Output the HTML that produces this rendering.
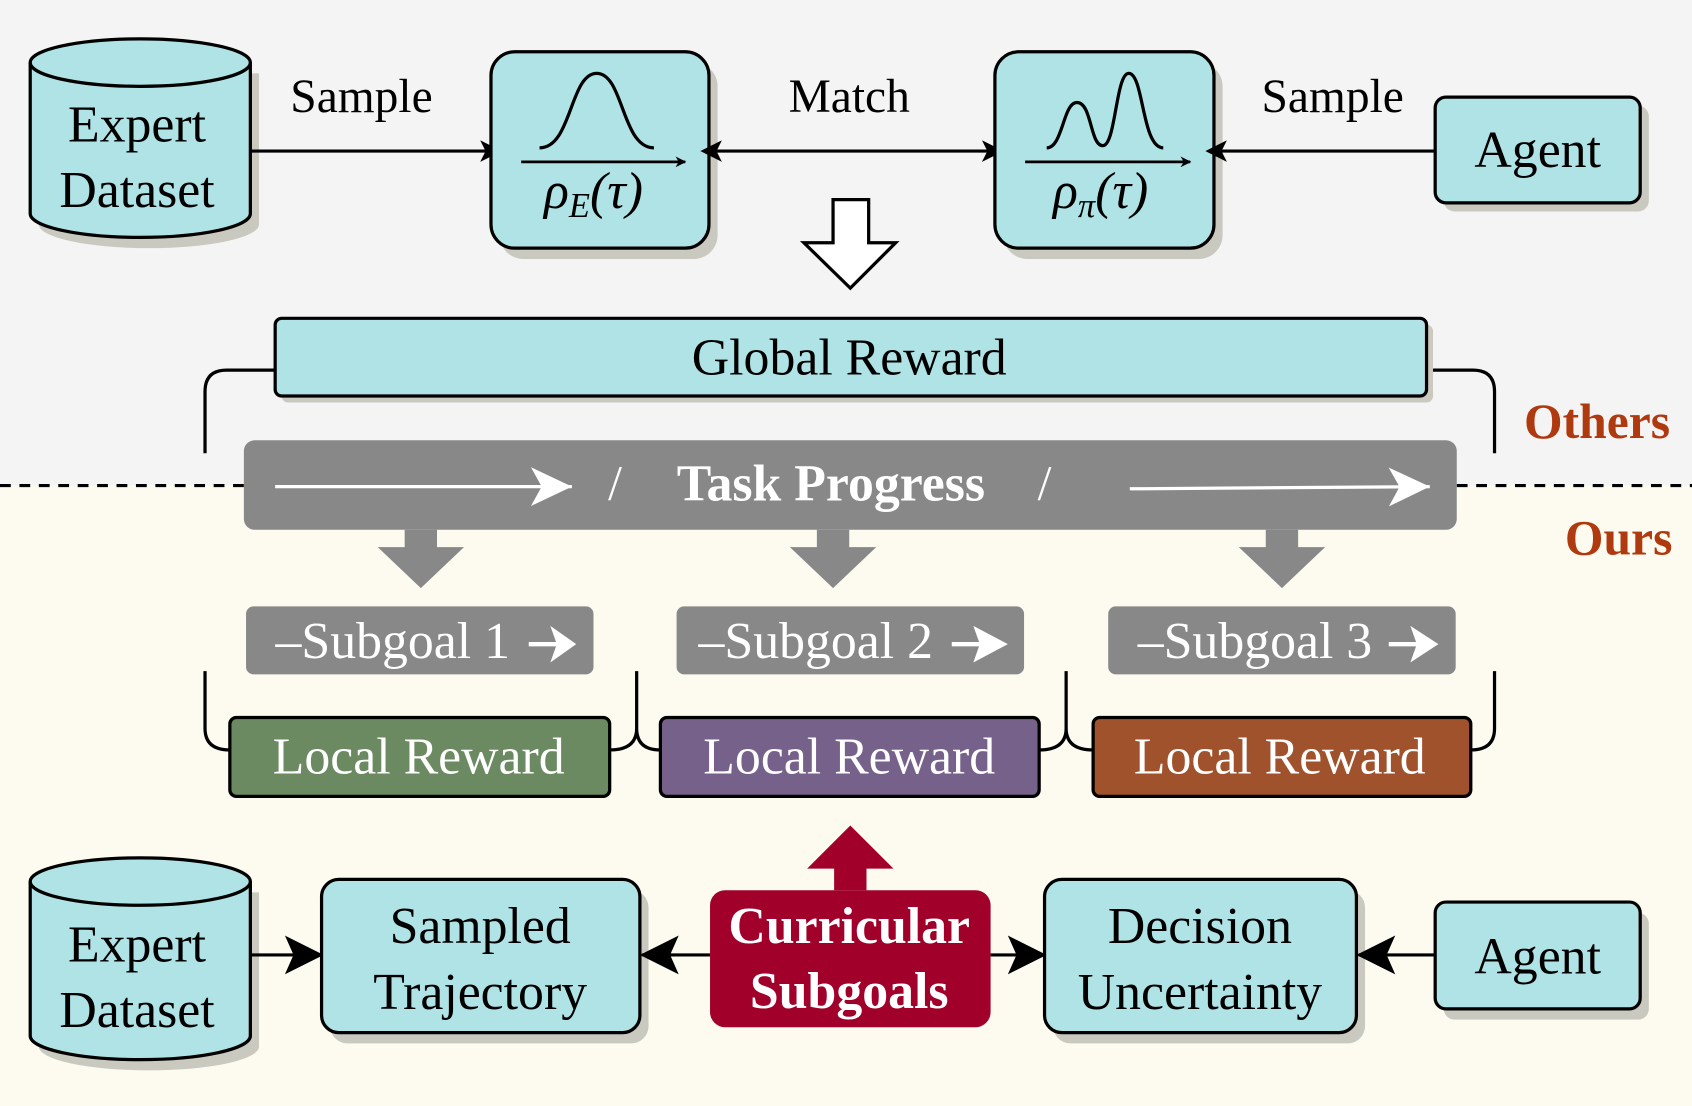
<!DOCTYPE html>
<html><head><style>html,body{margin:0;padding:0;background:#fff}svg{display:block}</style></head>
<body>
<svg width="1692" height="1106" viewBox="0 0 1568 1025" preserveAspectRatio="none" xmlns="http://www.w3.org/2000/svg" font-family="Liberation Serif, serif">
<defs>
<marker id="ah" markerWidth="10" markerHeight="10" refX="9" refY="5" orient="auto" markerUnits="userSpaceOnUse"><path d="M0,0 L10,5 L0,10 L3,5Z" fill="#000"/></marker>
<marker id="ahs" markerWidth="20" markerHeight="20" refX="10" refY="10" orient="auto-start-reverse" markerUnits="userSpaceOnUse"><path d="M0,0 L20,10 L0,20 L5,10Z" fill="#000"/></marker>
<marker id="ahb" markerWidth="36" markerHeight="36" refX="34" refY="18" orient="auto" markerUnits="userSpaceOnUse"><path d="M0,0 L36,18 L0,36 L8,18Z" fill="#000"/></marker>
<marker id="ahw" markerWidth="40" markerHeight="40" refX="38" refY="20" orient="auto" markerUnits="userSpaceOnUse"><path d="M0,2 L38,20 L0,38 L10,20Z" fill="#fff"/></marker>
</defs>
<rect x="0" y="0" width="1568" height="450" fill="#f4f4f4"/>
<rect x="0" y="450" width="1568" height="575" fill="#fdfbf0"/>
<line x1="0" y1="450" x2="1568" y2="450" stroke="#000" stroke-width="3" stroke-dasharray="10,8"/>

<g transform="translate(8,10)" fill="#c9c9c0"><path d="M28,58 V198 A102,22 0 0 0 232,198 V58Z"/></g>
<path d="M28,58 V198 A102,22 0 0 0 232,198 V58" fill="#b0e3e6" stroke="#000" stroke-width="3"/>
<ellipse cx="130" cy="58" rx="102" ry="22" fill="#b0e3e6" stroke="#000" stroke-width="3"/>
<text x="127" y="131" font-size="48" text-anchor="middle">Expert</text>
<text x="127" y="192" font-size="48" text-anchor="middle">Dataset</text>

<text x="335" y="104" font-size="44" text-anchor="middle">Sample</text>
<line x1="232" y1="140" x2="455" y2="140" stroke="#000" stroke-width="3" marker-end="url(#ahs)"/>

<rect x="463" y="58" width="202" height="182" rx="22" fill="#c9c9c0"/>
<rect x="455" y="48" width="202" height="182" rx="22" fill="#b0e3e6" stroke="#000" stroke-width="3"/>
<path d="M500,137 C530,137 528,68 553,68 C578,68 576,137 606,137" fill="none" stroke="#000" stroke-width="3"/>
<line x1="483" y1="150" x2="635" y2="150" stroke="#000" stroke-width="2.5" marker-end="url(#ah)"/>
<text x="550" y="193" font-size="48" text-anchor="middle" font-style="italic">ρ<tspan font-size="32" dy="8">E</tspan><tspan dy="-8">(τ)</tspan></text>

<text x="787" y="104" font-size="44" text-anchor="middle">Match</text>
<line x1="659" y1="140" x2="920" y2="140" stroke="#000" stroke-width="3" marker-end="url(#ahs)" marker-start="url(#ahs)"/>

<rect x="930" y="58" width="203" height="182" rx="22" fill="#c9c9c0"/>
<rect x="922" y="48" width="203" height="182" rx="22" fill="#b0e3e6" stroke="#000" stroke-width="3"/>
<path d="M970,137 C985,137 985,95 998,95 C1012,95 1010,135 1022,135 C1034,135 1034,68 1046,68 C1060,68 1058,137 1078,137" fill="none" stroke="#000" stroke-width="3"/>
<line x1="950" y1="150" x2="1103" y2="150" stroke="#000" stroke-width="2.5" marker-end="url(#ah)"/>
<text x="1020" y="193" font-size="48" text-anchor="middle" font-style="italic">ρ<tspan font-size="32" dy="8">π</tspan><tspan dy="-8">(τ)</tspan></text>

<text x="1235" y="104" font-size="44" text-anchor="middle">Sample</text>
<line x1="1330" y1="140" x2="1127" y2="140" stroke="#000" stroke-width="3" marker-end="url(#ahs)"/>
<rect x="1338" y="98" width="190" height="98" rx="10" fill="#c9c9c0"/>
<rect x="1330" y="90" width="190" height="98" rx="10" fill="#b0e3e6" stroke="#000" stroke-width="3"/>
<text x="1425" y="155" font-size="48" text-anchor="middle">Agent</text>

<path d="M772,185 H805 V225 H830 L788,267 L745,225 H772Z" fill="#fff" stroke="#000" stroke-width="3"/>

<path d="M255,343 H210 Q190,343 190,363 V420 M1322,343 H1365 Q1385,343 1385,363 V420" fill="none" stroke="#000" stroke-width="3"/>
<rect x="261" y="301" width="1067" height="72" rx="6" fill="#c9c9c0"/>
<rect x="255" y="295" width="1067" height="72" rx="6" fill="#b0e3e6" stroke="#000" stroke-width="3"/>
<text x="787" y="347" font-size="48" text-anchor="middle">Global Reward</text>
<text x="1480" y="406" font-size="46" font-weight="bold" fill="#b03a10" text-anchor="middle">Others</text>
<text x="1500" y="514" font-size="46" font-weight="bold" fill="#b03a10" text-anchor="middle">Ours</text>

<rect x="226" y="408" width="1124" height="83" rx="10" fill="#888"/>
<line x1="255" y1="451" x2="530" y2="451" stroke="#fff" stroke-width="3" marker-end="url(#ahw)"/>
<line x1="1047" y1="453" x2="1325" y2="451" stroke="#fff" stroke-width="3" marker-end="url(#ahw)"/>
<text x="570" y="463" font-size="46" fill="#fff" text-anchor="middle">/</text>
<text x="968" y="463" font-size="46" fill="#fff" text-anchor="middle">/</text>
<text x="770" y="464" font-size="48" font-weight="bold" fill="#fff" text-anchor="middle">Task Progress</text>

<g fill="#888">
<path d="M375,491 H405 V507 H430 L390,545 L350,507 H375Z"/>
<path d="M757,491 H787 V507 H812 L772,545 L732,507 H757Z"/>
<path d="M1173,491 H1203 V507 H1228 L1188,545 L1148,507 H1173Z"/>
<rect x="228" y="562" width="322" height="63" rx="7"/>
<rect x="627" y="562" width="322" height="63" rx="7"/>
<rect x="1027" y="562" width="322" height="63" rx="7"/>
</g>
<g fill="#fff" font-size="48" text-anchor="middle">
<text x="364" y="610">–Subgoal 1</text>
<text x="756" y="610">–Subgoal 2</text>
<text x="1163" y="610">–Subgoal 3</text>
</g>
<g fill="#fff" stroke="#fff" stroke-width="4">
<path d="M490,597 H518" /><path d="M510,580 L534,597 L510,614 L516,597Z" stroke="none"/>
<path d="M882,597 H910" /><path d="M902,580 L934,597 L902,614 L908,597Z" stroke="none"/>
<path d="M1287,597 H1315" /><path d="M1307,580 L1333,597 L1307,614 L1313,597Z" stroke="none"/>
</g>

<path d="M190,622 V675 Q190,695 213,695 M565,695 Q590,695 590,675 V622 M590,675 Q590,695 612,695 M963,695 Q988,695 988,675 V622 M988,675 Q988,695 1013,695 M1363,695 Q1385,695 1385,675 V622" fill="none" stroke="#000" stroke-width="3"/>
<rect x="213" y="665" width="352" height="73" rx="6" fill="#6b8a62" stroke="#000" stroke-width="3"/>
<rect x="612" y="665" width="351" height="73" rx="6" fill="#75618a" stroke="#000" stroke-width="3"/>
<rect x="1013" y="665" width="350" height="73" rx="6" fill="#a0522d" stroke="#000" stroke-width="3"/>
<g fill="#fff" font-size="48" text-anchor="middle">
<text x="388" y="717">Local Reward</text>
<text x="787" y="717">Local Reward</text>
<text x="1186" y="717">Local Reward</text>
</g>

<path d="M773,825 V805 H748 L788,765 L828,805 H803 V825Z" fill="#a0002a"/>

<g transform="translate(8,10)" fill="#c9c9c0"><path d="M28,817 V960 A102,22 0 0 0 232,960 V817Z"/></g>
<path d="M28,817 V960 A102,22 0 0 0 232,960 V817" fill="#b0e3e6" stroke="#000" stroke-width="3"/>
<ellipse cx="130" cy="817" rx="102" ry="22" fill="#b0e3e6" stroke="#000" stroke-width="3"/>
<text x="127" y="891" font-size="48" text-anchor="middle">Expert</text>
<text x="127" y="952" font-size="48" text-anchor="middle">Dataset</text>

<line x1="232" y1="885" x2="298" y2="885" stroke="#000" stroke-width="3" marker-end="url(#ahb)"/>
<rect x="306" y="825" width="295" height="142" rx="16" fill="#c9c9c0"/>
<rect x="298" y="815" width="295" height="142" rx="16" fill="#b0e3e6" stroke="#000" stroke-width="3"/>
<text x="445" y="874" font-size="48" text-anchor="middle">Sampled</text>
<text x="445" y="935" font-size="48" text-anchor="middle">Trajectory</text>

<line x1="658" y1="885" x2="595" y2="885" stroke="#000" stroke-width="3" marker-end="url(#ahb)"/>
<line x1="918" y1="885" x2="968" y2="885" stroke="#000" stroke-width="3" marker-end="url(#ahb)"/>
<rect x="658" y="825" width="260" height="127" rx="14" fill="#a0002a"/>
<text x="787" y="874" font-size="48" font-weight="bold" fill="#fff" text-anchor="middle">Curricular</text>
<text x="787" y="934" font-size="48" font-weight="bold" fill="#fff" text-anchor="middle">Subgoals</text>

<rect x="976" y="825" width="289" height="142" rx="16" fill="#c9c9c0"/>
<rect x="968" y="815" width="289" height="142" rx="16" fill="#b0e3e6" stroke="#000" stroke-width="3"/>
<text x="1112" y="874" font-size="48" text-anchor="middle">Decision</text>
<text x="1112" y="935" font-size="48" text-anchor="middle">Uncertainty</text>

<line x1="1330" y1="885" x2="1259" y2="885" stroke="#000" stroke-width="3" marker-end="url(#ahb)"/>
<rect x="1338" y="846" width="190" height="99" rx="10" fill="#c9c9c0"/>
<rect x="1330" y="836" width="190" height="99" rx="10" fill="#b0e3e6" stroke="#000" stroke-width="3"/>
<text x="1425" y="902" font-size="48" text-anchor="middle">Agent</text>
</svg>
</body></html>
